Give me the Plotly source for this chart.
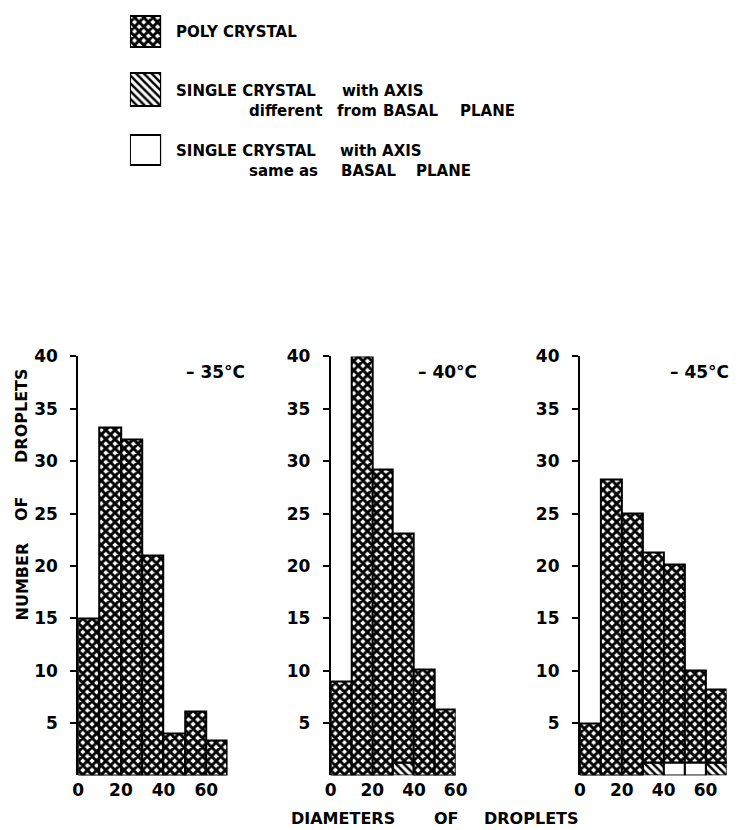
import plotly.graph_objects as go

# ---------------- data ----------------
bin_left = [0, 10, 20, 30, 40, 50, 60]          # droplet diameter bins (left edges)
bin_width = 10

poly_35 = [15, 33.2, 32.1, 21, 4, 6.1, 3.3]
diff_35 = [0, 0, 0, 0, 0, 0, 0]
same_35 = [0, 0, 0, 0, 0, 0, 0]

poly_40 = [9, 40, 29.2, 21.9, 10.1, 6.3]
diff_40 = [0, 0, 0, 1.2, 0, 0]
same_40 = [0, 0, 0, 0, 0, 0]

poly_45 = [5, 28.3, 25, 20.1, 18.9, 8.8, 7.0]
diff_45 = [0, 0, 0, 1.2, 0, 0, 1.2]
same_45 = [0, 0, 0, 0, 1.2, 1.2, 0]

panel_titles = ["– 35°C", "– 40°C", "– 45°C"]
x_ticks = [0, 20, 40, 60]
y_ticks = [5, 10, 15, 20, 25, 30, 35, 40]

# legend words (text, left x px, centre y px)
legend_words = [
    ("POLY CRYSTAL", 172, 22),
    ("SINGLE CRYSTAL", 172, 81.5), ("with AXIS", 342.7, 81.5),
    ("different", 246.7, 102.5), ("from", 337.3, 102.5), ("BASAL", 384.3, 102.5), ("PLANE", 463, 102.5),
    ("SINGLE CRYSTAL", 172, 142.5), ("with AXIS", 340, 142.5),
    ("same", 246.7, 162.5), ("as", 298, 162.5), ("BASAL", 341.7, 162.5), ("PLANE", 418, 162.5),
]

# ---------------- styling / layout helpers ----------------
W, H = 749, 830
FONT = "DejaVu Sans, sans-serif"


def px(x):
    return x / W


def py(y):
    return 1 - y / H


POLY = dict(shape="x", size=6.5, solidity=0.68, fgcolor="black", bgcolor="white", fillmode="replace")
DIFF = dict(shape="\\", size=5.5, solidity=0.45, fgcolor="black", bgcolor="white", fillmode="replace")
LINE = dict(color="black", width=2)

y_dom = [py(774.7), py(350.7)]
x_doms = [[px(74), px(227)], [px(332.7), px(460.7)], [px(588), px(738.3)]]
x_ranges = [[0, 70], [0, 60], [0, 70]]

panels = [
    (poly_35, diff_35, same_35),
    (poly_40, diff_40, same_40),
    (poly_45, diff_45, same_45),
]

fig = go.Figure()

tickfont = dict(size=17, family=FONT, color="black", weight="bold")
for i, (poly, diff, same) in enumerate(panels):
    n = len(poly)
    xs = bin_left[:n]
    xa = "x" if i == 0 else f"x{i+1}"
    ya = "y" if i == 0 else f"y{i+1}"
    single = [d + s for d, s in zip(diff, same)]
    fig.add_trace(go.Bar(x=xs, y=diff, base=[0] * n, width=bin_width, offset=0,
                         marker=dict(color="white", pattern=DIFF, line=LINE),
                         xaxis=xa, yaxis=ya, showlegend=False))
    fig.add_trace(go.Bar(x=xs, y=same, base=diff, width=bin_width, offset=0,
                         marker=dict(color="white", line=LINE),
                         xaxis=xa, yaxis=ya, showlegend=False))
    fig.add_trace(go.Bar(x=xs, y=poly, base=single, width=bin_width, offset=0,
                         marker=dict(color="white", pattern=POLY, line=LINE),
                         xaxis=xa, yaxis=ya, showlegend=False))

    sfx = "" if i == 0 else str(i + 1)
    fig.update_layout(**{
        f"xaxis{sfx}": dict(domain=x_doms[i], range=x_ranges[i], anchor=ya,
                            tickvals=x_ticks, ticks="", showline=False, showgrid=False,
                            zeroline=False, ticklabelstandoff=3, tickfont=tickfont),
        f"yaxis{sfx}": dict(domain=y_dom, range=[0, 40], anchor=xa,
                            tickvals=y_ticks, ticks="outside", ticklen=6, tickwidth=1.5,
                            tickcolor="black", showline=True, linecolor="black", linewidth=2,
                            showgrid=False, zeroline=False, ticklabelstandoff=9,
                            tickfont=tickfont),
    })

# legend swatches on an auxiliary axis (pixel units)
swatches = [(6, 31, POLY), (64, 33, DIFF), (126, 31, None)]
for top, h, pat in swatches:
    mk = dict(color="white", line=LINE)
    if pat is not None:
        mk["pattern"] = pat
    fig.add_trace(go.Bar(x=[0], y=[h], base=[top], width=1, marker=mk,
                         xaxis="x4", yaxis="y4", showlegend=False))
fig.update_layout(
    xaxis4=dict(domain=[px(127), px(159)], range=[-0.5, 0.5], anchor="y4", visible=False),
    yaxis4=dict(domain=[py(160), py(3)], range=[160, 3], anchor="x4", visible=False),
)

annots = []
lf = dict(size=15, family=FONT, color="black", weight="bold")
tf = dict(size=17, family=FONT, color="black", weight="bold")
af = dict(size=16, family=FONT, color="black", weight="bold")
for txt, x, y in legend_words:
    annots.append(dict(text=txt, x=px(x), y=py(y), xref="paper", yref="paper",
                       xanchor="left", yanchor="middle", showarrow=False, font=lf))
for txt, x in zip(panel_titles, [182.7, 420, 678]):
    annots.append(dict(text=txt, x=px(x), y=py(366), xref="paper", yref="paper",
                       xanchor="left", yanchor="middle", showarrow=False, font=tf))
for txt, y in zip(["NUMBER", "OF", "DROPLETS"], [578.3, 505, 410.8]):
    annots.append(dict(text=txt, x=px(16.5), y=py(y), xref="paper", yref="paper",
                       xanchor="center", yanchor="middle", textangle=-90,
                       showarrow=False, font=af))
for txt, x in zip(["DIAMETERS", "OF", "DROPLETS"], [290, 436.7, 488]):
    annots.append(dict(text=txt, x=px(x), y=py(818), xref="paper", yref="paper",
                       xanchor="left", yanchor="middle", showarrow=False, font=af))

fig.update_layout(
    width=W, height=H, margin=dict(l=0, r=0, t=0, b=0),
    paper_bgcolor="white", plot_bgcolor="white",
    barmode="overlay", bargap=0, showlegend=False,
    annotations=annots,
)

fig.write_html("out.html", config={"displayModeBar": False},
               post_script="document.body.style.margin='0px';")
